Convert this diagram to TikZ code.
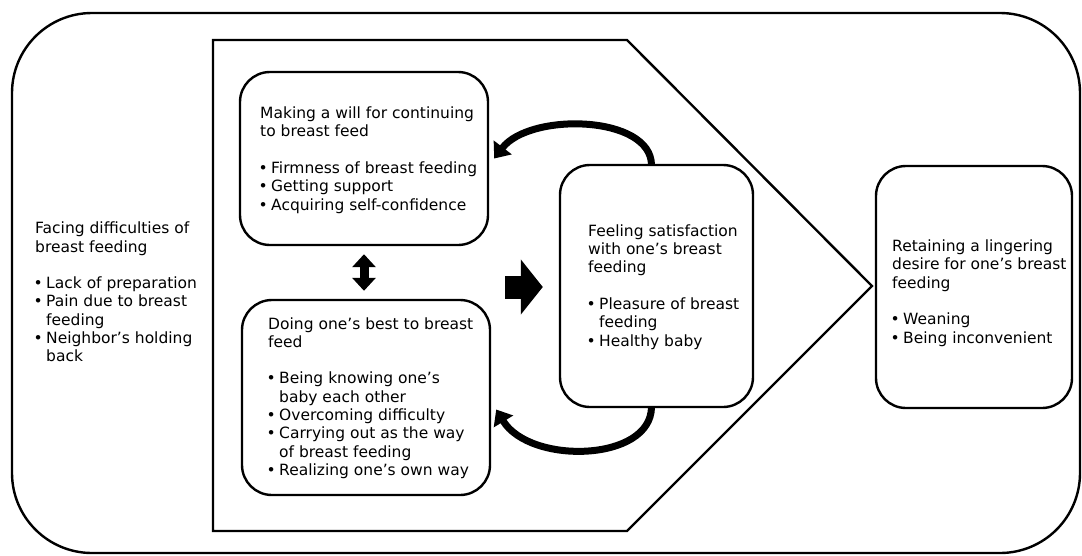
\documentclass[tikz,border=0pt]{standalone}
\usepackage{fontspec}
\setmainfont{DejaVu Sans}
\usetikzlibrary{arrows.meta,calc}
\newcommand{\bitem}{\makebox[11pt][l]{\hspace{-1.5pt}•}}
\newcommand{\bind}{\hspace*{11pt}}
\begin{document}
\begin{tikzpicture}[x=1pt,y=-1pt,
  frame/.style={draw,line width=2.4pt,line join=miter},
  box/.style={draw,line width=2.4pt,rounded corners=30pt,fill=white,inner sep=0pt},
  txt/.style={anchor=west,align=left,inner sep=0pt,font=\fontsize{15.5}{18.3}\selectfont},
  curved/.style={line width=7pt,-{Triangle[width=22pt,length=14pt]}},
  dbl/.style={line width=9pt,{Triangle[width=23pt,length=13pt]}-{Triangle[width=23pt,length=13pt]},shorten <=8pt,shorten >=8pt},
  bigarrow/.style={line width=23pt,-{Triangle[width=54pt,length=22pt]},shorten >=16pt}]
\useasboundingbox (0,0) rectangle (1082,555);
% outer frame and pentagon
\draw[frame,rounded corners=80pt] (12,13) rectangle (1080,553);
\draw[frame] (213,40) -- (627,40) -- (872,286) -- (627,531) -- (213,531) -- cycle;
% boxes (positions)
\coordinate (c1) at (364,158.5);
\coordinate (c2) at (366,397.5);
\coordinate (c3) at (656.5,286);
\coordinate (c4) at (974,287);
\path (c1) node[box,minimum width=248pt,minimum height=173pt] (b1) {};
\path (c2) node[box,minimum width=248pt,minimum height=195pt] (b2) {};
% curved arrows
\draw[curved] ($(c3)+(-5,-121)$) .. controls (651,115) and (530,112) .. ($(b1.east)+(5,0)$);
\draw[curved] ($(c3)+(-5,121)$) .. controls (651,462) and (530,465) .. ($(b2.east)+(5,12)$);
\path (c3) node[box,minimum width=193pt,minimum height=242pt] (b3) {};
\path (c4) node[box,minimum width=196pt,minimum height=242pt] (b4) {};
% texts
\node[txt] (t0) at (35,292) {Facing difficulties of\\
breast feeding\\[18.3pt]
\bitem Lack of preparation\\
\bitem Pain due to breast\\
\bind feeding\\
\bitem Neighbor's holding\\
\bind back};
\node[txt] (t1) at (260,160) {Making a will for continuing\\
to breast feed\\[18.3pt]
\bitem Firmness of breast feeding\\
\bitem Getting support\\
\bitem Acquiring self-confidence};
\node[txt] (t2) at (268,398) {Doing one's best to breast\\
feed\\[18.3pt]
\bitem Being knowing one's\\
\bind baby each other\\
\bitem Overcoming difficulty\\
\bitem Carrying out as the way\\
\bind of breast feeding\\
\bitem Realizing one's own way};
\node[txt] (t3) at (588,287) {Feeling satisfaction\\
with one's breast\\
feeding\\[18.3pt]
\bitem Pleasure of breast\\
\bind feeding\\
\bitem Healthy baby};
\node[txt] (t4) at (892,293) {Retaining a lingering\\
desire for one's breast\\
feeding\\[18.3pt]
\bitem Weaning\\
\bitem Being inconvenient};
% straight arrows
\draw[dbl] (b1.south) -- (b1.south |- b2.north);
\coordinate (ra) at (505,287);
\draw[bigarrow] (ra) -- (ra -| b3.west);
\end{tikzpicture}
\end{document}
